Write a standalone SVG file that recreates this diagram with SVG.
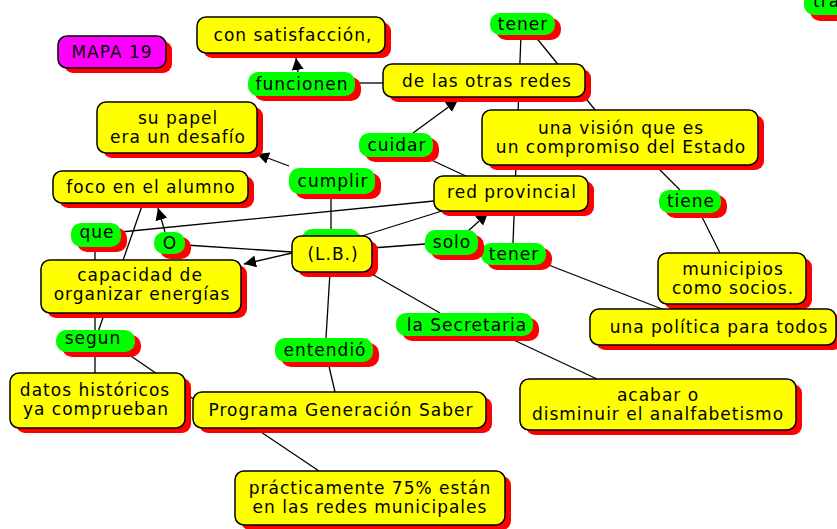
<svg xmlns="http://www.w3.org/2000/svg" width="837" height="529" viewBox="0 0 837 529">
<style>
.sh{fill:#ff0000}
.y{fill:#ffff00;stroke:#000;stroke-width:1.5}
.g{fill:#00ff00}
.m{fill:#ff00ff;stroke:#000;stroke-width:1.5}
text{font-family:"DejaVu Sans",Verdana,sans-serif;font-size:17px;letter-spacing:1px;text-anchor:middle;fill:#000}
#connectors line{stroke:#000;stroke-width:1.3;fill:none}
</style>
<defs>
<marker id="ah" markerUnits="userSpaceOnUse" markerWidth="14" markerHeight="14" refX="12" refY="6" orient="auto"><path d="M0,0 L12,6 L0,12 z" fill="#000"/></marker>
</defs>
<rect width="837" height="529" fill="#fff"/>
<g id="connectors">
<line x1="298" y1="72" x2="296" y2="58" marker-end="url(#ah)"/>
<line x1="355" y1="83" x2="384" y2="83"/>
<line x1="521" y1="35" x2="513" y2="243"/>
<line x1="530" y1="30" x2="596" y2="111"/>
<line x1="413" y1="133" x2="458" y2="100" marker-end="url(#ah)"/>
<line x1="425" y1="157" x2="470" y2="178"/>
<line x1="655" y1="165" x2="680" y2="190"/>
<line x1="700" y1="213" x2="720" y2="253"/>
<line x1="546" y1="264" x2="662" y2="309"/>
<line x1="467" y1="232" x2="488" y2="213" marker-end="url(#ah)"/>
<line x1="372" y1="248" x2="425" y2="244"/>
<line x1="362" y1="236" x2="442" y2="211"/>
<line x1="121" y1="232" x2="434" y2="201"/>
<line x1="331" y1="194" x2="331" y2="236"/>
<line x1="289" y1="166" x2="257" y2="154" marker-end="url(#ah)"/>
<line x1="165" y1="232" x2="158" y2="208" marker-end="url(#ah)"/>
<line x1="185" y1="245" x2="292" y2="252"/>
<line x1="292" y1="253" x2="244" y2="264" marker-end="url(#ah)"/>
<line x1="370" y1="273" x2="440" y2="313"/>
<line x1="505" y1="336" x2="597" y2="379"/>
<line x1="330" y1="272" x2="326" y2="338"/>
<line x1="328" y1="362" x2="335" y2="392"/>
<line x1="255" y1="428" x2="319" y2="471"/>
<line x1="95" y1="247" x2="95" y2="373"/>
<line x1="143" y1="203" x2="98" y2="332"/>
<line x1="125" y1="352" x2="195" y2="400"/>
</g>
<g id="n-mapa"><rect class="sh" x="64" y="41" width="108" height="32" rx="9"/><rect class="m" x="58" y="36" width="108" height="32" rx="9"/><text x="112" y="58">MAPA 19</text></g>
<g id="n-con"><rect class="sh" x="203" y="22" width="188" height="36" rx="9"/><rect class="y" x="197" y="17" width="188" height="36" rx="9"/><text x="293" y="41">con satisfacción,</text></g>
<g id="n-funcionen"><rect class="sh" x="254" y="77" width="107" height="24" rx="10"/><rect class="g" x="248" y="72" width="107" height="24" rx="10"/><text x="302" y="90">funcionen</text></g>
<g id="n-redes"><rect class="sh" x="389" y="69" width="202" height="33" rx="9"/><rect class="y" x="383" y="64" width="202" height="33" rx="9"/><text x="487" y="87">de las otras redes</text></g>
<g id="n-tener1"><rect class="sh" x="496" y="18" width="65" height="22" rx="10"/><rect class="g" x="490" y="13" width="65" height="22" rx="10"/><text x="523" y="30">tener</text></g>
<g id="n-tra"><rect class="sh" x="810" y="-9" width="60" height="30" rx="10"/><rect class="g" x="804" y="-15" width="60" height="30" rx="10"/><text x="813" y="7" style="text-anchor:start">tra</text></g>
<g id="n-vision"><rect class="sh" x="488" y="115" width="276" height="55" rx="9"/><rect class="y" x="482" y="110" width="276" height="55" rx="9"/><text x="621" y="134">una visión que es</text><text x="621" y="153">un compromiso del Estado</text></g>
<g id="n-cuidar"><rect class="sh" x="365" y="138" width="74" height="24" rx="10"/><rect class="g" x="359" y="133" width="74" height="24" rx="10"/><text x="397" y="151">cuidar</text></g>
<g id="n-redprov"><rect class="sh" x="440" y="181" width="154" height="35" rx="9"/><rect class="y" x="434" y="176" width="154" height="35" rx="9"/><text x="512" y="198">red provincial</text></g>
<g id="n-tiene"><rect class="sh" x="665" y="195" width="62" height="23" rx="10"/><rect class="g" x="659" y="190" width="62" height="23" rx="10"/><text x="691" y="207">tiene</text></g>
<g id="n-municipios"><rect class="sh" x="664" y="258" width="148" height="51" rx="9"/><rect class="y" x="658" y="253" width="148" height="51" rx="9"/><text x="733" y="275">municipios</text><text x="733" y="294">como socios.</text></g>
<g id="n-politica"><rect class="sh" x="596" y="314" width="246" height="36" rx="9"/><rect class="y" x="590" y="309" width="246" height="36" rx="9"/><text x="719" y="333">una política para todos</text></g>
<g id="n-tener2"><rect class="sh" x="487" y="248" width="65" height="22" rx="10"/><rect class="g" x="481" y="243" width="65" height="22" rx="10"/><text x="514" y="260">tener</text></g>
<g id="n-solo"><rect class="sh" x="431" y="235" width="53" height="25" rx="10"/><rect class="g" x="425" y="230" width="53" height="25" rx="10"/><text x="452" y="248">solo</text></g>
<g id="n-hidden"><rect class="sh" x="308" y="234" width="58" height="24" rx="10"/><rect class="g" x="302" y="229" width="58" height="24" rx="10"/></g>
<g id="n-lb"><rect class="sh" x="298" y="241" width="80" height="36" rx="9"/><rect class="y" x="292" y="236" width="80" height="36" rx="9"/><text x="333" y="260">(L.B.)</text></g>
<g id="n-secretaria"><rect class="sh" x="402" y="318" width="137" height="23" rx="10"/><rect class="g" x="396" y="313" width="137" height="23" rx="10"/><text x="467" y="331">la Secretaria</text></g>
<g id="n-acabar"><rect class="sh" x="526" y="384" width="276" height="51" rx="9"/><rect class="y" x="520" y="379" width="276" height="51" rx="9"/><text x="658" y="401">acabar o</text><text x="658" y="420">disminuir el analfabetismo</text></g>
<g id="n-entendio"><rect class="sh" x="281" y="343" width="98" height="24" rx="10"/><rect class="g" x="275" y="338" width="98" height="24" rx="10"/><text x="325" y="356">entendió</text></g>
<g id="n-programa"><rect class="sh" x="199" y="397" width="293" height="36" rx="9"/><rect class="y" x="193" y="392" width="293" height="36" rx="9"/><text x="341" y="416">Programa Generación Saber</text></g>
<g id="n-practicamente"><rect class="sh" x="241" y="476" width="270" height="54" rx="9"/><rect class="y" x="235" y="471" width="270" height="54" rx="9"/><text x="370" y="494">prácticamente 75% están</text><text x="370" y="513">en las redes municipales</text></g>
<g id="n-datos"><rect class="sh" x="16" y="378" width="175" height="55" rx="9"/><rect class="y" x="10" y="373" width="175" height="55" rx="9"/><text x="95" y="396">datos históricos</text><text x="96" y="415">ya comprueban</text></g>
<g id="n-capacidad"><rect class="sh" x="47" y="265" width="200" height="53" rx="9"/><rect class="y" x="41" y="260" width="200" height="53" rx="9"/><text x="140" y="281">capacidad de</text><text x="142" y="300">organizar energías</text></g>
<g id="n-segun"><rect class="sh" x="62" y="335" width="79" height="22" rx="10"/><rect class="g" x="56" y="330" width="79" height="22" rx="10"/><text x="93" y="344">segun</text></g>
<g id="n-que"><rect class="sh" x="77" y="228" width="50" height="24" rx="10"/><rect class="g" x="71" y="223" width="50" height="24" rx="10"/><text x="97" y="238">que</text></g>
<g id="n-o"><rect class="sh" x="160" y="237" width="31" height="22" rx="10"/><rect class="g" x="154" y="232" width="31" height="22" rx="10"/><text x="170" y="249">O</text></g>
<g id="n-cumplir"><rect class="sh" x="295" y="173" width="86" height="26" rx="10"/><rect class="g" x="289" y="168" width="86" height="26" rx="10"/><text x="333" y="187">cumplir</text></g>
<g id="n-papel"><rect class="sh" x="103" y="107" width="160" height="51" rx="9"/><rect class="y" x="97" y="102" width="160" height="51" rx="9"/><text x="178" y="124">su papel</text><text x="178" y="143">era un desafío</text></g>
<g id="n-foco"><rect class="sh" x="59" y="176" width="195" height="32" rx="9"/><rect class="y" x="53" y="171" width="195" height="32" rx="9"/><text x="151" y="193">foco en el alumno</text></g>
</svg>
